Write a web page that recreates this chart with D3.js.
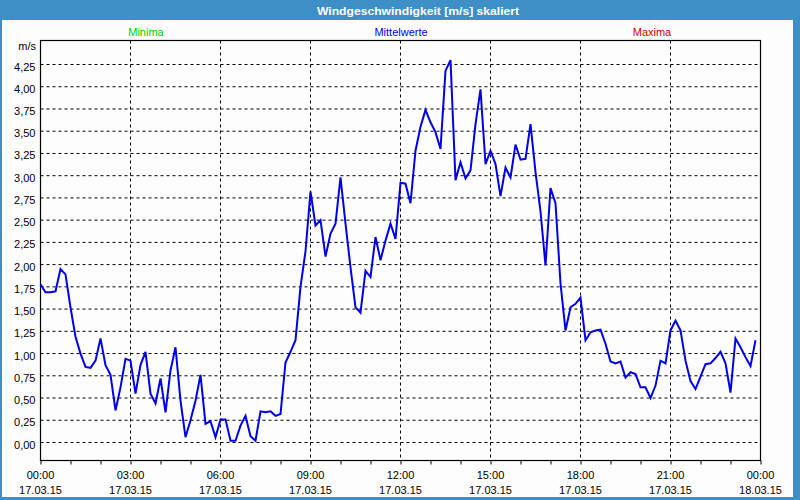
<!DOCTYPE html>
<html>
<head>
<meta charset="utf-8">
<script src="https://cdn.jsdelivr.net/npm/d3@7"></script>
<style>
  html, body { margin: 0; padding: 0; background: #fcfdfc; }
  svg { display: block; font-family: "Liberation Sans", Arial, sans-serif; }
</style>
</head>
<body>
<svg id="chart" width="800" height="500"></svg>
<script>
// wind speed means, one value every 10 minutes starting 17.03.15 00:00
const meanValues = [
  1.78, 1.69, 1.69, 1.70, 1.95, 1.89, 1.52, 1.19, 1.00, 0.85,
  0.84, 0.92, 1.17, 0.87, 0.76, 0.36, 0.62, 0.94, 0.92, 0.55,
  0.87, 1.02, 0.55, 0.44, 0.72, 0.34, 0.81, 1.07, 0.47, 0.06,
  0.25, 0.47, 0.76, 0.21, 0.24, 0.06, 0.26, 0.26, 0.02, 0.02,
  0.19, 0.30, 0.07, 0.02, 0.35, 0.34, 0.35, 0.30, 0.32, 0.90,
  1.02, 1.15, 1.75, 2.15, 2.82, 2.44, 2.50, 2.09, 2.35, 2.46,
  2.98, 2.46, 1.97, 1.52, 1.46, 1.93, 1.86, 2.31, 2.05, 2.27,
  2.46, 2.29, 2.92, 2.91, 2.69, 3.28, 3.55, 3.74, 3.60, 3.49,
  3.30, 4.18, 4.30, 2.95, 3.15, 2.97, 3.06, 3.58, 3.97, 3.13,
  3.28, 3.13, 2.77, 3.09, 2.98, 3.35, 3.18, 3.19, 3.58, 3.04,
  2.60, 1.99, 2.86, 2.69, 1.79, 1.26, 1.52, 1.56, 1.63, 1.15,
  1.24, 1.26, 1.27, 1.11, 0.91, 0.89, 0.91, 0.73, 0.79, 0.77,
  0.62, 0.62, 0.50, 0.64, 0.92, 0.89, 1.26, 1.37, 1.26, 0.92,
  0.69, 0.60, 0.74, 0.88, 0.89, 0.95, 1.02, 0.89, 0.56, 1.17,
  1.07, 0.96, 0.86, 1.15
];
const yTicks = [0, 0.25, 0.5, 0.75, 1, 1.25, 1.5, 1.75, 2, 2.25, 2.5, 2.75, 3, 3.25, 3.5, 3.75, 4, 4.25];
const legendLabels = ["Minima", "Mittelwerte", "Maxima"];
const legendColors = ["#00cc00", "#0000ff", "#cc0000"];
const titleText = "Windgeschwindigkeit [m/s] skaliert";

const start = new Date(2015, 2, 17, 0, 0);
const end = new Date(2015, 2, 18, 0, 0);
const points = meanValues.map((v, i) => ({ t: d3.timeMinute.offset(start, i * 10), v: v }));

const svg = d3.select("#chart");
const plotLeft = 40.5, plotRight = 760.5, plotTop = 40.5, plotBottom = 460.5;

const x = d3.scaleTime().domain([start, end]).range([plotLeft, plotRight]);
const y = d3.scaleLinear().domain([0, 4.25]).range([442.5, 64.5]);

const de = d3.formatLocale({ decimal: ",", thousands: ".", grouping: [3], currency: ["", " €"] });
const fmt = de.format(".2f");
const timeFmt = d3.timeFormat("%H:%M");
const dateFmt = d3.timeFormat("%d.%m.%y");

// window frame and title bar
svg.append("rect").attr("x", 0).attr("y", 0).attr("width", 800).attr("height", 500).attr("fill", "#3d8fc6");
svg.append("rect").attr("x", 2).attr("y", 20).attr("width", 791).attr("height", 477).attr("fill", "#fcfdfc");
svg.append("text")
    .attr("x", 418).attr("y", 14.5)
    .attr("text-anchor", "middle")
    .attr("fill", "#ffffff")
    .attr("font-weight", "bold")
    .attr("font-size", "11.5px")
    .attr("textLength", 202)
    .attr("lengthAdjust", "spacingAndGlyphs")
    .text(titleText);

// legend labels above the plot
const legendX = [146, 401, 652];
svg.selectAll("text.legend")
    .data(legendLabels)
    .enter().append("text")
    .attr("class", "legend")
    .attr("x", (d, i) => legendX[i])
    .attr("y", 36)
    .attr("text-anchor", "middle")
    .attr("font-size", "11px")
    .attr("fill", (d, i) => legendColors[i])
    .text(d => d);

// horizontal grid
svg.append("g")
    .selectAll("line")
    .data(yTicks)
    .enter().append("line")
    .attr("x1", plotLeft).attr("x2", plotRight)
    .attr("y1", d => y(d)).attr("y2", d => y(d))
    .attr("stroke", "#000").attr("stroke-width", 1).attr("stroke-dasharray", "3,3");

// vertical grid every 3 hours
const majorTimes = d3.timeHour.every(3).range(start, d3.timeHour.offset(end, 1));
svg.append("g")
    .selectAll("line")
    .data(majorTimes.filter(t => t > start && t < end))
    .enter().append("line")
    .attr("x1", d => x(d)).attr("x2", d => x(d))
    .attr("y1", plotTop).attr("y2", plotBottom)
    .attr("stroke", "#000").attr("stroke-width", 1).attr("stroke-dasharray", "3,3");

// plot frame
svg.append("rect")
    .attr("x", plotLeft).attr("y", plotTop)
    .attr("width", plotRight - plotLeft).attr("height", plotBottom - plotTop)
    .attr("fill", "none").attr("stroke", "#000").attr("stroke-width", 1.2);

// y axis labels
const yAxis = d3.axisLeft(y).tickValues(yTicks).tickSize(0).tickPadding(5).tickFormat(fmt);
const gy = svg.append("g").attr("transform", `translate(${plotLeft},0)`).call(yAxis);
gy.select(".domain").remove();
gy.selectAll("text").attr("font-size", "11px").attr("font-family", "Liberation Sans, Arial, sans-serif").attr("fill", "#000").attr("dy", "0.5em");
svg.append("text")
    .attr("x", 36).attr("y", 50)
    .attr("text-anchor", "end")
    .attr("font-size", "11px")
    .text("m/s");

// x axis: hourly ticks, labels every 3 hours
const xAxis = d3.axisBottom(x).ticks(d3.timeHour.every(1)).tickSize(4).tickFormat("");
const gx = svg.append("g").attr("transform", `translate(0,${plotBottom})`).call(xAxis);
gx.select(".domain").remove();
gx.selectAll("line").attr("stroke", "#000");

const labels = svg.append("g")
    .selectAll("g")
    .data(majorTimes.filter(t => t <= end))
    .enter().append("g")
    .attr("transform", d => `translate(${x(d)},0)`);
labels.append("text")
    .attr("y", 479).attr("text-anchor", "middle").attr("font-size", "11px")
    .text(d => timeFmt(d));
labels.append("text")
    .attr("y", 494).attr("text-anchor", "middle").attr("font-size", "11px")
    .text(d => dateFmt(d));

// mean line
const line = d3.line().x(d => x(d.t)).y(d => y(d.v));
svg.append("path")
    .datum(points)
    .attr("d", line)
    .attr("fill", "none")
    .attr("stroke", "#0000e8")
    .attr("stroke-width", 2)
    .attr("stroke-linejoin", "miter");
</script>
</body>
</html>
